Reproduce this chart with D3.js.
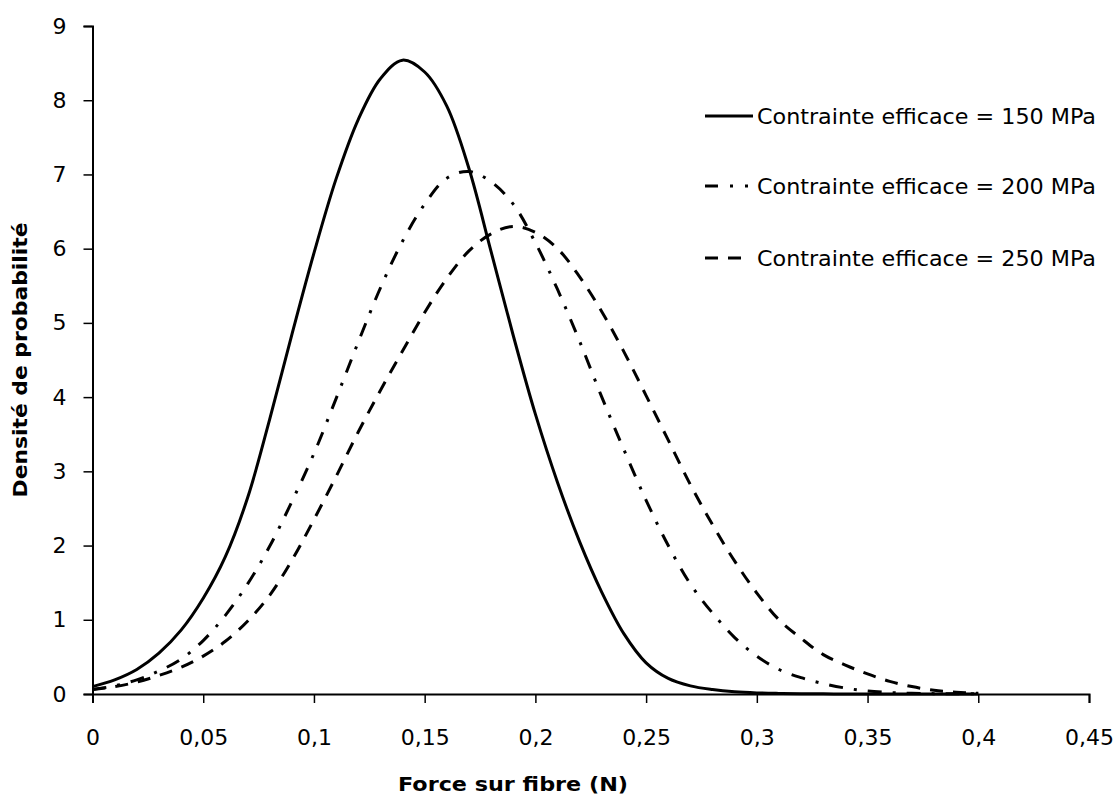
<!DOCTYPE html>
<html>
<head>
<meta charset="utf-8">
<script src="https://cdn.jsdelivr.net/npm/d3@7"></script>
<style>
  html, body { margin: 0; padding: 0; background: #fff; }
  svg { display: block; }
</style>
</head>
<body>
<div id="chart"></div>
<script>
// ---- Data ----
const forceN = [0,0.01,0.02,0.03,0.04,0.05,0.06,0.07,0.08,0.09,0.10,0.11,0.12,0.13,0.14,0.15,0.16,0.17,0.18,0.19,0.20,
  0.21,0.22,0.23,0.24,0.25,0.26,0.27,0.28,0.29,0.30,0.31,0.32,0.33,0.34,0.35,0.36,0.37,0.38,0.39,0.40];

const density150 = [0.10,0.19,0.33,0.55,0.86,1.29,1.85,2.64,3.70,4.84,5.94,6.94,7.74,8.29,8.54,8.38,7.92,7.08,5.96,4.83,3.77,
  2.85,2.05,1.37,0.81,0.42,0.21,0.11,0.06,0.03,0.015,0.008,0.004,0.002,0.001,0.001,0,0,0,0,0];

const density200 = [0.06,0.11,0.19,0.31,0.47,0.72,1.06,1.48,1.99,2.59,3.24,3.98,4.74,5.47,6.10,6.60,6.95,7.04,6.90,6.60,6.08,
  5.45,4.75,4.00,3.29,2.61,2.00,1.48,1.09,0.76,0.51,0.33,0.22,0.14,0.08,0.04,0.02,0.01,0.005,0.003,0.002];

const density250 = [0.06,0.10,0.16,0.25,0.36,0.51,0.71,0.98,1.33,1.80,2.35,2.93,3.53,4.09,4.62,5.14,5.60,5.97,6.20,6.30,6.22,
  6.00,5.62,5.15,4.61,4.02,3.42,2.82,2.28,1.79,1.36,1.00,0.75,0.53,0.39,0.27,0.17,0.10,0.05,0.025,0.01];

const seriesNames = ["Contrainte efficace = 150 MPa", "Contrainte efficace = 200 MPa", "Contrainte efficace = 250 MPa"];
const xTicks = [0,0.05,0.1,0.15,0.2,0.25,0.3,0.35,0.4,0.45];
const xTickLabels = ["0","0,05","0,1","0,15","0,2","0,25","0,3","0,35","0,4","0,45"];
const yTicks = [0,1,2,3,4,5,6,7,8,9];
const xTitle = "Force sur fibre (N)";
const yTitle = "Densité de probabilité";

// ---- Layout ----
const W = 1116, H = 798;
const x0 = 92.5, x1 = 1089, y0 = 694, y1 = 26;
const FONT = "'DejaVu Sans', Verdana, sans-serif";

const svg = d3.select("#chart").append("svg").attr("width", W).attr("height", H)
  .style("background", "#fff");

const x = d3.scaleLinear().domain([0, 0.45]).range([x0, x1]);
const y = d3.scaleLinear().domain([0, 9]).range([y0, y1]);

// axes
const xAxis = d3.axisBottom(x).tickValues(xTicks)
  .tickFormat((d, i) => xTickLabels[i]).tickSizeOuter(0).tickSize(9).tickPadding(26);
const yAxis = d3.axisLeft(y).tickValues(yTicks)
  .tickFormat(d => String(d)).tickSizeOuter(0).tickSize(9).tickPadding(17);

const gx = svg.append("g").attr("transform", `translate(0,${y0})`).call(xAxis);
const gy = svg.append("g").attr("transform", `translate(${x0},0)`).call(yAxis);

[gx, gy].forEach(g => {
  g.select(".domain").attr("stroke", "#000").attr("stroke-width", 2);
  g.selectAll(".tick line").attr("stroke", "#000").attr("stroke-width", 1.5);
  g.selectAll(".tick text").attr("fill", "#000")
    .style("font-family", FONT).style("font-size", "22px");
});

// lines
const styles = [
  { data: density150, dash: null },
  { data: density200, dash: "14,11,3,11" },
  { data: density250, dash: "13,10" }
];

const line = d3.line()
  .x(d => x(d[0])).y(d => y(Math.max(0, d[1])))
  .curve(d3.curveCatmullRom.alpha(0.5));

styles.forEach(s => {
  const pts = forceN.map((f, i) => [f, s.data[i]]);
  svg.append("path")
    .datum(pts)
    .attr("d", line)
    .attr("fill", "none")
    .attr("stroke", "#000")
    .attr("stroke-width", 3)
    .attr("stroke-dasharray", s.dash)
    .attr("stroke-linejoin", "round");
});

// legend
const legendY = [116, 186, 258];
const legendDash = [null, "13,12,3,12,3,100", "13,10,13,100"];
seriesNames.forEach((name, i) => {
  svg.append("line")
    .attr("x1", 705).attr("x2", 753)
    .attr("y1", legendY[i]).attr("y2", legendY[i])
    .attr("stroke", "#000").attr("stroke-width", 3)
    .attr("stroke-dasharray", legendDash[i]);
  svg.append("text")
    .attr("x", 757).attr("y", legendY[i])
    .attr("dy", "0.36em")
    .style("font-family", FONT).style("font-size", "21px")
    .attr("textLength", 339).attr("lengthAdjust", "spacingAndGlyphs")
    .text(name);
});

// axis titles
svg.append("text")
  .attr("x", 513).attr("y", 791)
  .attr("text-anchor", "middle")
  .style("font-family", FONT).style("font-size", "20px").style("font-weight", "bold")
  .attr("textLength", 230).attr("lengthAdjust", "spacingAndGlyphs")
  .text(xTitle);

svg.append("text")
  .attr("transform", "translate(27,360) rotate(-90)")
  .attr("text-anchor", "middle")
  .style("font-family", FONT).style("font-size", "20px").style("font-weight", "bold")
  .attr("textLength", 275).attr("lengthAdjust", "spacingAndGlyphs")
  .text(yTitle);
</script>
</body>
</html>
